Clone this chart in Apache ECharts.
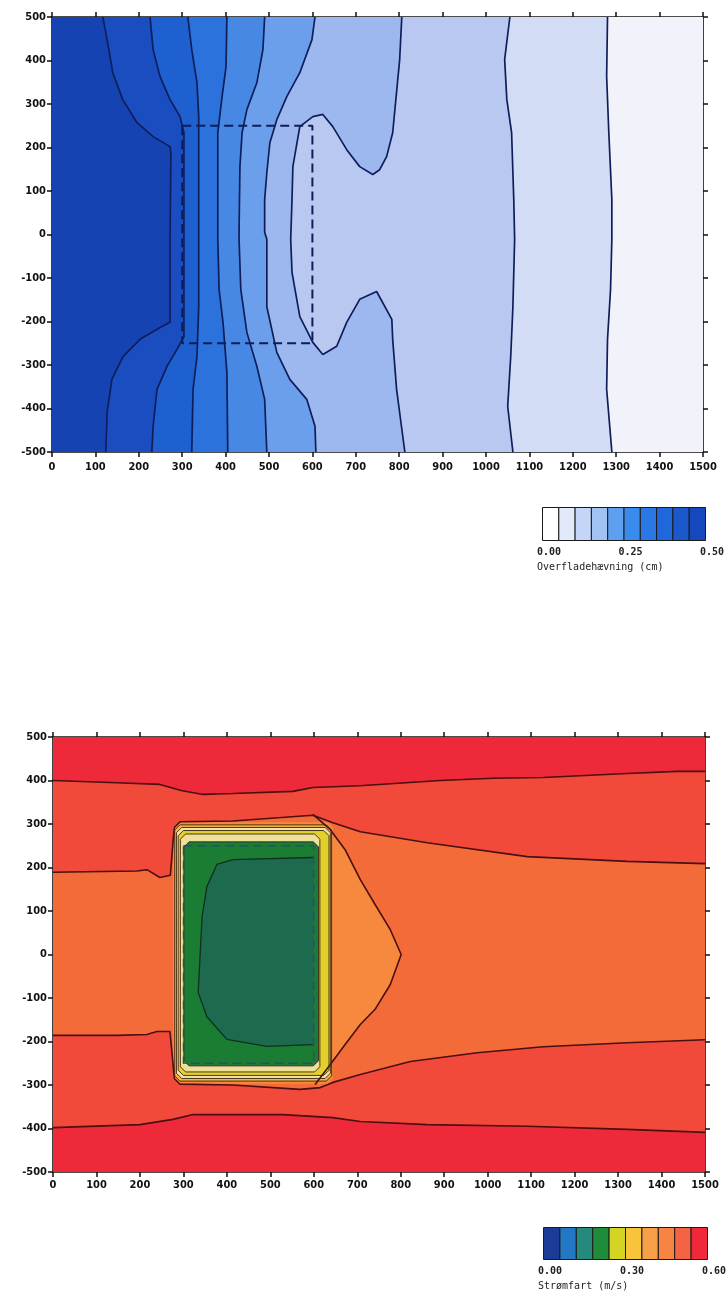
<!DOCTYPE html>
<html><head><meta charset="utf-8">
<script src="https://cdn.jsdelivr.net/npm/echarts@6/dist/echarts.min.js"></script>
<style>html,body{margin:0;padding:0;background:#fff}#c{width:727px;height:1298px}</style>
</head><body><div id="c"></div><script>
// ---------- axes ----------
const xTickValues = [0,100,200,300,400,500,600,700,800,900,1000,1100,1200,1300,1400,1500];
const yTickValues = [-500,-400,-300,-200,-100,0,100,200,300,400,500];

// ---------- top plot: surface rise contours (cm), levels 0.45 .. 0.05 ----------
const topLevels = [0.45,0.40,0.35,0.30,0.25,0.20,0.15,0.10,0.05];
const topLine045 = [[117,500],[127,448],[140,372],[163,310],[196,257],[233,225],[272,202],[274,189],[272,-11],[272,-202],[249,-214],[203,-241],[164,-280],[138,-333],[127,-409],[124,-500]];
const topLine040 = [[226,500],[233,425],[249,363],[272,310],[295,271],[304,234],[304,189],[304,-11],[304,-235],[288,-264],[265,-303],[242,-356],[233,-441],[230,-500]];
const topLine035 = [[313,500],[322,425],[334,349],[338,271],[338,195],[338,-11],[338,-166],[334,-280],[325,-356],[322,-500]];
const topLine030 = [[403,500],[401,386],[391,310],[382,234],[382,5],[382,-11],[385,-126],[394,-202],[403,-317],[405,-500]];
const topLine025 = [[490,500],[486,425],[472,349],[449,287],[438,234],[433,156],[431,5],[431,-11],[435,-126],[449,-225],[472,-303],[490,-379],[495,-500]];
const topLine020 = [[606,500],[599,448],[571,372],[541,317],[518,264],[502,211],[495,142],[490,80],[490,5],[495,-11],[495,-166],[518,-271],[548,-333],[587,-379],[606,-441],[608,-500]];
const topLine015 = [[806,500],[801,401],[785,234],[771,179],[755,149],[739,138],[709,156],[679,195],[647,248],[624,276],[601,271],[571,248],[555,156],[553,80],[550,-11],[553,-87],[571,-189],[601,-248],[624,-276],[656,-257],[679,-202],[709,-149],[748,-131],[783,-195],[785,-241],[794,-356],[813,-500]];
const topLine010 = [[1055,500],[1043,402],[1048,310],[1059,234],[1064,80],[1066,-11],[1062,-166],[1057,-280],[1050,-395],[1062,-500]];
const topLine005 = [[1280,500],[1278,363],[1283,234],[1290,80],[1290,-11],[1287,-126],[1280,-241],[1278,-356],[1290,-500]];
const structureOutline = [[300,250],[600,250],[600,-250],[300,-250],[300,250]];

const topLegendLabels = ['0.00','0.25','0.50'];
const topLegendTitle = 'Overfladehævning (cm)';
const topLegendColors = ['#ffffff','#e2eaf9','#c4d6f7','#a2c2f3','#5ea0ef','#3a8cec','#2a78e6','#1f68dc','#1a58cc','#1448bc'];
const topFillColors   = ['#f2f2fb','#d3dcf5','#b9c8f1','#9cb8ef','#6c9feb','#4688e3','#2c72dc','#1f60d0','#1a4ec0','#1544b2'];

// ---------- bottom plot: current speed contours (m/s) ----------
const botLineUpperOuter = [[0,400],[147,395],[246,391],[295,377],[345,368],[414,370],[552,375],[598,384],[706,388],[891,400],[1013,405],[1128,407],[1321,416],[1436,421],[1500,421]];
const botLineLowerOuter = [[0,-398],[200,-391],[276,-379],[322,-368],[529,-368],[644,-375],[707,-384],[861,-391],[1091,-395],[1321,-402],[1500,-409]];
const botLineUpperInner = [[0,189],[193,192],[216,195],[246,177],[270,182],[276,257],[279,292],[292,305],[414,307],[598,320],[644,303],[707,282],[861,257],[1091,225],[1321,214],[1500,209]];
const botLineLowerInner = [[0,-186],[147,-186],[216,-184],[239,-177],[269,-177],[276,-250],[279,-285],[292,-298],[414,-300],[568,-310],[615,-306],[644,-294],[707,-276],[822,-246],[976,-226],[1128,-212],[1321,-203],[1500,-196]];
const botLineWake = [[598,322],[638,287],[672,241],[707,172],[741,115],[776,57],[801,0],[776,-69],[741,-126],[707,-161],[672,-207],[638,-253],[603,-299]];
const botLineCore = [[598,223],[414,218],[377,207],[354,156],[343,87],[338,-11],[334,-87],[354,-143],[400,-195],[492,-211],[598,-207]];
// box rings: [xLeft, xRight, yBottom, yTop]
const botRingBounds = [[276,644,-297,304],[280,641,-291,298],[284,638,-285,292],[288,635,-278,285],[293,614,-270,277],[301,611,-256,259]];
const botRingColors = ['#f7893e','#f6b440','#f2e3a6','#e2d02c','#eee09a','#1b7c34'];

const botLegendLabels = ['0.00','0.30','0.60'];
const botLegendTitle = 'Strømfart (m/s)';
const botLegendColors = ['#1c3a98','#2278c4','#238a7c','#1e8c3a','#d4d424','#f8c43c','#f8a048','#f88444','#f46444','#f0283c'];
const botFillColors   = ['#1c3a98','#2278c4','#1d6a4e','#1b7c34','#e4d22a','#f6b440','#f7893e','#f46b3a','#f14a3a','#ee2a3a'];

// ---------- build layers ----------
const X0 = xTickValues[0], X1 = xTickValues[xTickValues.length-1];
const Y0 = yTickValues[0], Y1 = yTickValues[yTickValues.length-1];
const fullRect = [[X0,Y1],[X1,Y1],[X1,Y0],[X0,Y0]];

const topLines = [topLine005,topLine010,topLine015,topLine020,topLine025,topLine030,topLine035,topLine040,topLine045];
const topLayers = [{pts: fullRect, color: topFillColors[0]}];
topLines.forEach((ln, i) => {
  topLayers.push({pts: [[X0,Y1]].concat(ln, [[X0,Y0]]), color: topFillColors[i+1]});
});

function chamfered(b, c) {
  const [l, r, bt, tp] = b;
  return [[l+c,tp],[r-c,tp],[r,tp-c],[r,bt+c],[r-c,bt],[l+c,bt],[l,bt+c],[l,tp-c]];
}
const botLayers = [
  {pts: fullRect, color: botFillColors[9]},
  {pts: botLineUpperOuter.concat(botLineLowerOuter.slice().reverse()), color: botFillColors[8]},
  {pts: botLineUpperInner.concat(botLineLowerInner.slice().reverse()), color: botFillColors[7]},
  {pts: botLineWake.concat([[625,-285],[625,290]]), color: botFillColors[6]}
];
botRingBounds.forEach((b, i) => botLayers.push({pts: chamfered(b, 12), color: botRingColors[i]}));
botLayers.push({pts: botLineCore, color: botFillColors[2]});

function polyRender(layers) {
  return function (params, api) {
    const L = layers[api.value(0)];
    return {type: 'polygon', shape: {points: L.pts.map(p => api.coord(p))}, style: {fill: L.color}};
  };
}

const labelFont = {fontFamily: "'Liberation Sans Narrow','DejaVu Sans Condensed',sans-serif", fontWeight: 'bold', fontSize: 11, color: '#111'};
function axesFor(gi, xMargin) {
  const common = {type: 'value', gridIndex: gi, splitLine: {show: false},
    axisLine: {show: true, onZero: false, lineStyle: {color: '#111', width: 1.6}},
    axisTick: {show: true, length: 5, lineStyle: {color: '#111', width: 1.5}}};
  return {
    x: [
      Object.assign({}, common, {position: 'bottom', min: X0, max: X1, interval: 100,
        axisLabel: Object.assign({margin: xMargin, formatter: v => String(v)}, labelFont)}),
      Object.assign({}, common, {position: 'top', min: X0, max: X1, interval: 100, axisLabel: {show: false}})
    ],
    y: [
      Object.assign({}, common, {position: 'left', min: Y0, max: Y1, interval: 100,
        axisLabel: Object.assign({margin: 6, formatter: v => String(v)}, labelFont)}),
      Object.assign({}, common, {position: 'right', min: Y0, max: Y1, interval: 100, axisLabel: {show: false}})
    ]
  };
}
const a0 = axesFor(0, 10), a1 = axesFor(1, 8);

function lineSeries(data, xi, yi, color, width, dashed) {
  return {type: 'line', xAxisIndex: xi, yAxisIndex: yi, data: data, symbol: 'none', silent: true, z: 5,
    lineStyle: {color: color, width: width, type: dashed ? [9, 5] : 'solid'}, animation: false};
}

const series = [];
series.push({type: 'custom', xAxisIndex: 0, yAxisIndex: 0, silent: true, z: 1, animation: false,
  data: topLayers.map((_, i) => [i, 0]), renderItem: polyRender(topLayers)});
topLines.forEach(ln => series.push(lineSeries(ln, 0, 0, '#0f1e5a', 1.7)));
series.push(lineSeries(structureOutline, 0, 0, '#0f1e5a', 2, true));

series.push({type: 'custom', xAxisIndex: 2, yAxisIndex: 2, silent: true, z: 1, animation: false,
  data: botLayers.map((_, i) => [i, 0]), renderItem: polyRender(botLayers)});
[botLineUpperOuter, botLineLowerOuter, botLineUpperInner, botLineLowerInner, botLineWake].forEach(ln =>
  series.push(lineSeries(ln, 2, 2, '#4a0f12', 1.6)));
botRingBounds.slice(1).forEach(b => {
  const p = chamfered(b, 12); p.push(p[0]);
  series.push(lineSeries(p, 2, 2, '#3a2412', 0.9));
});
series.push(lineSeries(botLineCore, 2, 2, '#10301f', 1.3));
series.push(lineSeries(structureOutline, 2, 2, '#2e4a7a', 1.3, true));

// ---------- legends (graphic) ----------
function legend(left, top, w, h, colors, labels, title) {
  const els = [];
  const bw = w / colors.length;
  colors.forEach((c, k) => els.push({type: 'rect', left: left + k * bw, top: top,
    shape: {x: 0, y: 0, width: bw, height: h}, style: {fill: c, stroke: '#1a1a1a', lineWidth: 1}}));
  labels.forEach((t, k) => els.push({type: 'text', left: left - 5 + k * w / 2, top: top + h + 7,
    style: {text: t, font: "bold 10px 'DejaVu Sans Mono', monospace", fill: '#222'}}));
  els.push({type: 'text', left: left - 5, top: top + h + 22,
    style: {text: title, font: "10px 'DejaVu Sans Mono', monospace", fill: '#222'}});
  return els;
}

const option = {
  backgroundColor: '#ffffff',
  animation: false,
  grid: [
    {left: 52, top: 17, width: 651, height: 435},
    {left: 53, top: 737, width: 652, height: 435}
  ],
  xAxis: a0.x.concat(a1.x),
  yAxis: a0.y.concat(a1.y),
  series: series,
  graphic: legend(542, 507, 163, 33, topLegendColors, topLegendLabels, topLegendTitle)
    .concat(legend(543, 1227, 164, 32, botLegendColors, botLegendLabels, botLegendTitle))
};
const chart = echarts.init(document.getElementById('c'), null, {renderer: 'canvas'});
chart.setOption(option);
</script></body></html>
